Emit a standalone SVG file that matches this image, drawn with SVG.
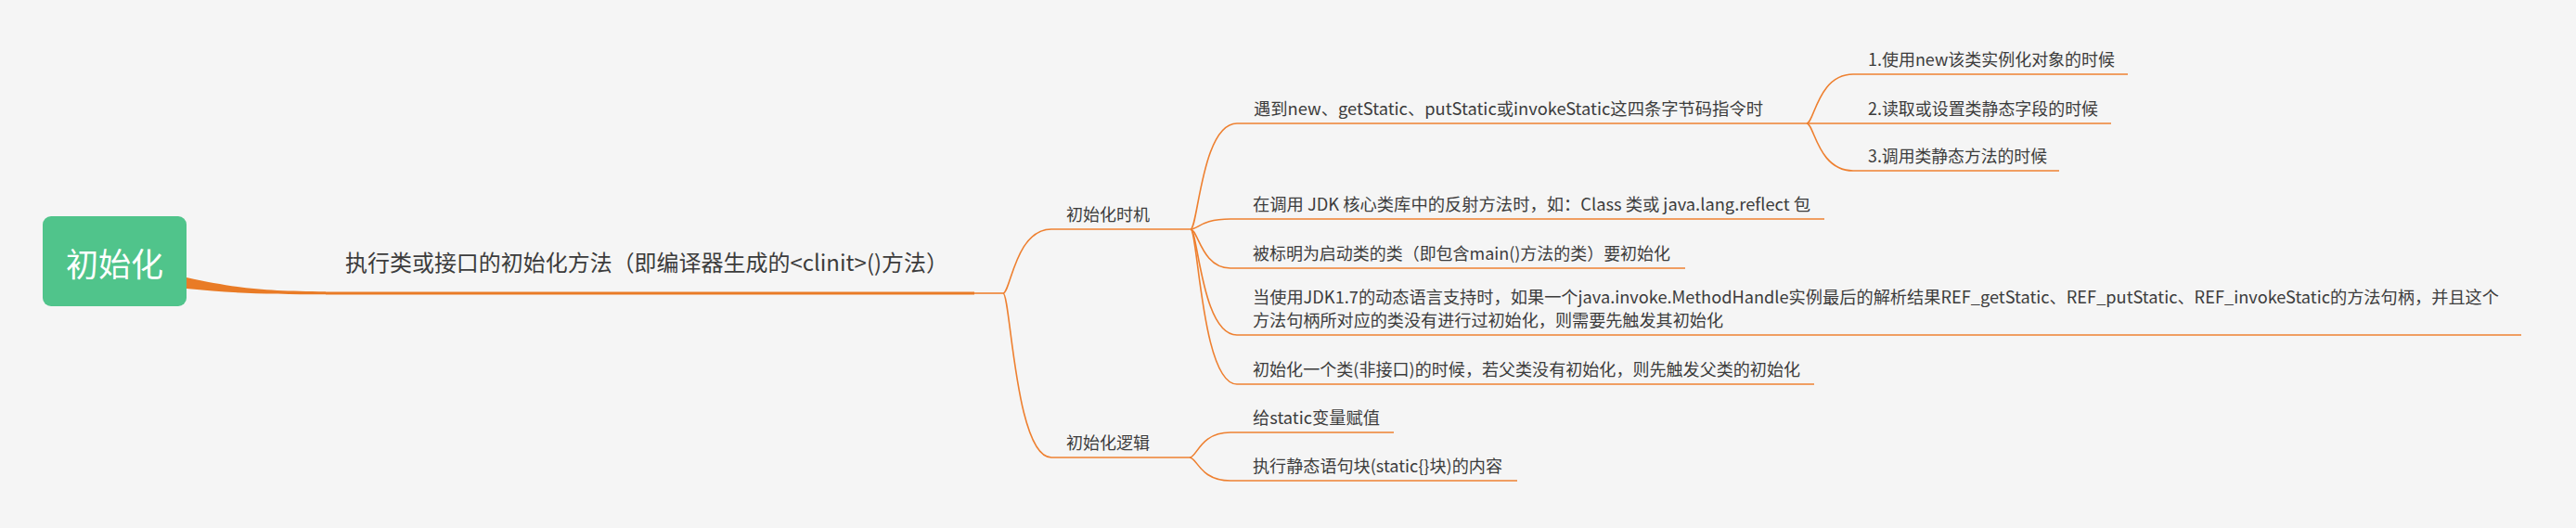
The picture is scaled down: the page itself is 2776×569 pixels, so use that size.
<svg xmlns="http://www.w3.org/2000/svg" width="2776" height="569" viewBox="0 0 2776 569">
<style>
.t{font-family:"Noto Sans CJK SC","Noto Sans",sans-serif;font-size:18px;fill:#3c3c3c}
.m{font-size:24px}
.r{font-family:"Noto Sans CJK SC","Noto Sans",sans-serif;font-size:35px;fill:#ffffff}
.u{stroke:#EE8030;stroke-width:1.6;fill:none}
.c{stroke:#EE8030;stroke-width:1.6;fill:none}
</style>
<rect width="2776" height="569" fill="#f5f5f5"/>
<g id="connectors">
  <path d="M201 299 C260 312,290 313.5,351 314.3 L351 317.3 C290 317.3,250 316,201 311Z" fill="#E97B26"/>
  <path class="c" d="M1050 316 H1081"/>
  <path class="c" d="M1081 316 C1089 316,1094 247,1133 247"/>
  <path class="c" d="M1081 316 C1089 316,1094 493,1133 493"/>
  <path class="c" d="M1283 247 C1291 247,1295 133,1333 133"/>
  <path class="c" d="M1283 247 C1291 247,1295 236,1326 236"/>
  <path class="c" d="M1283 247 C1291 247,1295 289,1326 289"/>
  <path class="c" d="M1283 247 C1291 247,1295 361,1333 361"/>
  <path class="c" d="M1283 247 C1291 247,1295 414,1333 414"/>
  <path class="c" d="M1947 133 C1955 133,1959 80,1997 80"/>
  <path class="c" d="M1947 133 H1997"/>
  <path class="c" d="M1947 133 C1955 133,1959 184,1997 184"/>
  <path class="c" d="M1282 493 C1290 493,1293 466,1326 466"/>
  <path class="c" d="M1282 493 C1290 493,1293 518,1326 518"/>
</g>
<g id="root">
  <rect x="46" y="233" width="155" height="97" rx="9" fill="#50C48B"/>
  <text class="r" x="123.5" y="298" text-anchor="middle">初始化</text>
</g>
<g id="main">
  <path d="M351 316 H1050" stroke="#E97B26" stroke-width="3" fill="none"/>
  <text class="t m" x="372" y="292" textLength="650" lengthAdjust="spacingAndGlyphs">执行类或接口的初始化方法（即编译器生成的&lt;clinit&gt;()方法）</text>
</g>
<g id="timing">
  <path class="u" d="M1133 247 H1283"/>
  <text class="t" x="1149" y="238" textLength="90" lengthAdjust="spacingAndGlyphs">初始化时机</text>
</g>
<g id="logic">
  <path class="u" d="M1133 493 H1282"/>
  <text class="t" x="1149" y="484" textLength="90" lengthAdjust="spacingAndGlyphs">初始化逻辑</text>
</g>
<g id="bytecode">
  <path class="u" d="M1333 133 H1947"/>
  <text class="t" x="1351" y="124" textLength="549" lengthAdjust="spacingAndGlyphs">遇到new、getStatic、putStatic或invokeStatic这四条字节码指令时</text>
</g>
<g id="bc1">
  <path class="u" d="M1997 80 H2293"/>
  <text class="t" x="2013" y="71" textLength="266" lengthAdjust="spacingAndGlyphs">1.使用new该类实例化对象的时候</text>
</g>
<g id="bc2">
  <path class="u" d="M1997 133 H2275"/>
  <text class="t" x="2013" y="124" textLength="248" lengthAdjust="spacingAndGlyphs">2.读取或设置类静态字段的时候</text>
</g>
<g id="bc3">
  <path class="u" d="M1997 184 H2219"/>
  <text class="t" x="2013" y="175" textLength="193" lengthAdjust="spacingAndGlyphs">3.调用类静态方法的时候</text>
</g>
<g id="reflect">
  <path class="u" d="M1326 236 H1966"/>
  <text class="t" x="1350" y="227" textLength="601" lengthAdjust="spacingAndGlyphs">在调用 JDK 核心类库中的反射方法时，如：Class 类或 java.lang.reflect 包</text>
</g>
<g id="mainclass">
  <path class="u" d="M1326 289 H1816"/>
  <text class="t" x="1350" y="280" textLength="450" lengthAdjust="spacingAndGlyphs">被标明为启动类的类（即包含main()方法的类）要初始化</text>
</g>
<g id="methodhandle">
  <path class="u" d="M1333 361 H2717"/>
  <text class="t" x="1350" y="327" textLength="1343" lengthAdjust="spacingAndGlyphs">当使用JDK1.7的动态语言支持时，如果一个java.invoke.MethodHandle实例最后的解析结果REF_getStatic、REF_putStatic、REF_invokeStatic的方法句柄，并且这个</text>
  <text class="t" x="1350" y="352" textLength="507" lengthAdjust="spacingAndGlyphs">方法句柄所对应的类没有进行过初始化，则需要先触发其初始化</text>
</g>
<g id="parent">
  <path class="u" d="M1333 414 H1955"/>
  <text class="t" x="1350" y="405" textLength="590" lengthAdjust="spacingAndGlyphs">初始化一个类(非接口)的时候，若父类没有初始化，则先触发父类的初始化</text>
</g>
<g id="assign">
  <path class="u" d="M1326 466 H1502"/>
  <text class="t" x="1350" y="457" textLength="137" lengthAdjust="spacingAndGlyphs">给static变量赋值</text>
</g>
<g id="staticblock">
  <path class="u" d="M1326 518 H1635"/>
  <text class="t" x="1350" y="509" textLength="269" lengthAdjust="spacingAndGlyphs">执行静态语句块(static{}块)的内容</text>
</g>
</svg>
